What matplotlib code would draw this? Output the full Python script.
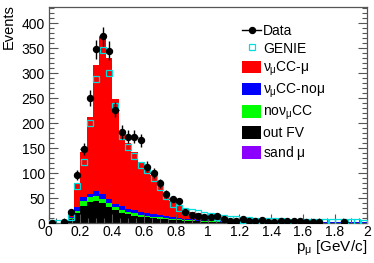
import numpy as np
import matplotlib
matplotlib.use("Agg")
import matplotlib.pyplot as plt
from matplotlib.patches import Patch
from matplotlib.lines import Line2D
from matplotlib.ticker import MultipleLocator, FuncFormatter

plt.rcParams['font.family'] = ['Liberation Sans', 'DejaVu Sans']
plt.rcParams['mathtext.fontset'] = 'custom'
plt.rcParams['mathtext.rm'] = 'Liberation Sans'
plt.rcParams['mathtext.it'] = 'Liberation Sans'

# ---- data ----
bin_edges = np.linspace(0.0, 2.0, 51)

data_counts = [1, 0, 2, 22, 97, 148, 250, 348, 374, 345,
               227, 183, 173, 173, 166, 113, 100, 80, 59, 48,
               44, 22, 17, 15, 12, 12, 15, 9, 5, 5,
               8, 4, 4, 6, 3, 3, 4, 4, 4, 4,
               3, 3, 3, 0, 0, 0, 2, 0, 0, 0]

genie = [1, 0.5, 1, 13, 75, 123, 201, 289, 347, 300,
         235, 175, 153, 134, 116, 107, 90, 73, 54, 38,
         30, 25, 22, 20, 17, 15, 12, 10, 9, 8,
         6, 6, 5, 5, 4, 4, 4, 3, 3, 3,
         3, 3, 3, 2, 2, 2, 2, 2, 2, 1.5]

sand_mu = [0, 0, 0.3, 1, 1.5, 1.5, 1.5, 1.5, 1.5, 1.5,
           1.5, 1.5, 1.5, 1.5, 1.5, 1.5, 1.5, 1.5, 1.5, 1.5,
           1.5, 1, 1, 1, 1, 1, 1, 1, 1, 1,
           1, 0.5, 0.5, 0.5, 0.5, 0.5, 0.5, 0.5, 0.5, 0.5,
           0.5, 0.5, 0.5, 0.5, 0.5, 0.5, 0.5, 0.5, 0.5, 0.5]

out_fv = [0, 0, 0.7, 7, 18.5, 33.5, 41.5, 43.5, 38.5, 30.5,
          25.5, 19.5, 16.5, 13.5, 11.5, 10.5, 8.5, 7.5, 6.5, 5.5,
          4.5, 4, 3.5, 3, 2.5, 2.2, 2, 1.6, 1.3, 1,
          0.8, 0.8, 0.8, 0.8, 0.8, 0.8, 0.8, 0.8, 0.8, 0.5,
          0.5, 0.5, 0.5, 0.5, 0.5, 0.5, 0.5, 0.5, 0.5, 0.5]

no_numu_cc = [0, 0, 0.5, 2, 5, 9, 9, 10, 9, 8,
              5, 6, 5, 5, 4, 3, 3, 3, 2, 2,
              2, 2, 1.5, 1.5, 1.5, 1.3, 1, 0.9, 0.7, 1,
              0.7, 0.4, 0.4, 0.4, 0.4, 0.4, 0.4, 0.4, 0.4, 0.4,
              0.4, 0.4, 0.4, 0.4, 0.4, 0.4, 0.4, 0.4, 0.4, 0.4]

numu_cc_nomu = [0, 0, 0.5, 2, 7, 9, 6, 9, 9, 8,
                6, 7, 5, 6, 6, 5, 5, 4, 4, 3,
                2, 2, 2, 1.5, 1, 1, 1, 1, 1, 0.5,
                0.5, 0.4, 0.4, 0.4, 0.4, 0.4, 0.4, 0.4, 0.4, 0.4,
                0.4, 0.4, 0.4, 0.4, 0.4, 0.4, 0.4, 0.4, 0.4, 0.4]

numu_cc_mu = [0.5, 0.5, 1, 7, 48, 89, 154, 253, 314, 282,
              210, 151, 132, 116, 99, 93, 79, 64, 47, 33,
              25, 18, 15, 13, 11, 9.5, 8, 5.5, 4, 3.5,
              3, 2, 2, 1.5, 1.5, 1, 1, 1, 1, 0.8,
              0.8, 0.6, 0.6, 0.6, 0.6, 0.3, 0.3, 0.3, 0.1, 0.1]

x_ticks = [0, 0.2, 0.4, 0.6, 0.8, 1.0, 1.2, 1.4, 1.6, 1.8, 2.0]

# ---- figure ----
W, H = 374, 263
fig = plt.figure(figsize=(W / 100, H / 100), dpi=100)
ax = fig.add_axes([48.5 / W, 1 - 223.3 / H, (366.7 - 48.5) / W, (223.3 - 6.7) / H])

stack = [(sand_mu, '#8c00ff'), (out_fv, 'black'), (no_numu_cc, '#00ff00'),
         (numu_cc_nomu, '#0000ff'), (numu_cc_mu, '#ff0000')]
bottom = np.zeros(50)
for vals, col in stack:
    top = bottom + np.asarray(vals, float)
    ax.stairs(top, bin_edges, baseline=bottom, fill=True, color=col, lw=0)
    bottom = top

centers = 0.5 * (bin_edges[:-1] + bin_edges[1:])
ax.plot(centers, genie, ls='none', marker='s', ms=4.2, mfc='none',
        mec='#00dede', mew=0.9, zorder=4)

d = np.asarray(data_counts, float)
m = d > 0
ax.errorbar(centers[m], d[m], yerr=np.sqrt(d[m]), xerr=0.02, fmt='o', color='black',
            ms=4.3, elinewidth=1.0, capsize=0, zorder=5)

ax.set_xlim(0, 2)
ax.set_ylim(0, 433)
ax.xaxis.set_major_locator(MultipleLocator(0.2))
ax.xaxis.set_minor_locator(MultipleLocator(0.05))
ax.yaxis.set_major_locator(MultipleLocator(50))
ax.yaxis.set_minor_locator(MultipleLocator(10))
ax.set_xticks(x_ticks)
ax.xaxis.set_major_formatter(FuncFormatter(lambda v, p: '%g' % v))
ax.tick_params(which='both', direction='in', top=False, right=True, labelsize=10,
               color='#555555', width=0.8)
ax.tick_params(which='major', length=6.5)
ax.tick_params(axis='y', which='major', pad=2.5)
ax.tick_params(axis='x', which='major', pad=1.5)
ax.tick_params(which='minor', length=3.5)
for s in ax.spines.values():
    s.set_linewidth(0.9)
    s.set_color('#555555')

fig.text(8.5 / W, 1 - 4 / H, 'Events', rotation=90, ha='center', va='top', fontsize=10.5)
fig.text(367 / W, 1 - 251.5 / H, r'p$_{\mu}$ [GeV/c]', ha='right', va='baseline', fontsize=11)

handles = [
    Line2D([], [], color='black', marker='o', ms=4.3, lw=1.0),
    Line2D([], [], ls='none', marker='s', ms=4.2, mfc='none', mec='#00dede', mew=0.9),
    Patch(facecolor='#ff0000', lw=0),
    Patch(facecolor='#0000ff', lw=0),
    Patch(facecolor='#00ff00', lw=0),
    Patch(facecolor='black', lw=0),
    Patch(facecolor='#8c00ff', lw=0),
]
labels = ['Data', 'GENIE', r'$\nu_{\mu}$CC-$\mu$', r'$\nu_{\mu}$CC-no$\mu$',
          r'no$\nu_{\mu}$CC', 'out FV', r'sand $\mu$']
leg = fig.legend(handles, labels, loc='upper left', bbox_to_anchor=(242 / W, 1 - 24 / H),
                 frameon=False, fontsize=10, handlelength=1.4, handleheight=1.0,
                 handletextpad=0.1, labelspacing=0.28, borderpad=0, borderaxespad=0)
fig.savefig('out.png', dpi=100)
